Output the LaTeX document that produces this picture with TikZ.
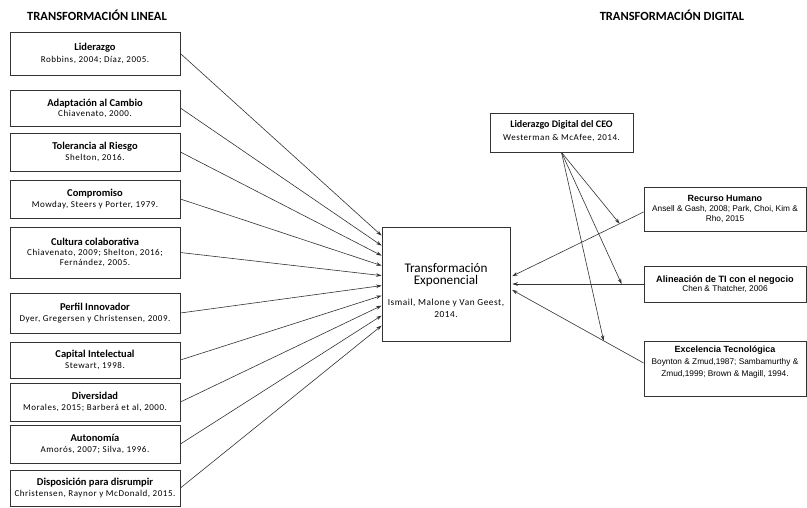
\documentclass[tikz,border=0pt]{standalone}
\usepackage{fontspec}
\setmainfont{Carlito}
\newfontfamily\citefont[LetterSpace=6]{Carlito}
\newfontfamily\arialf{Liberation Sans}
\usetikzlibrary{arrows.meta,calc}
\newcommand\ltit[1]{{\fontsize{10.5}{12}\selectfont\bfseries #1}}
\newcommand\lcit[1]{{\citefont\fontsize{9}{10}\selectfont #1}}
\newcommand\rtit[2]{{\arialf\fontsize{#1}{10}\selectfont\bfseries #2}}
\newcommand\rcit[1]{{\arialf\fontsize{8.3}{10}\selectfont #1}}
\begin{document}
\begin{tikzpicture}[x=1pt,y=-1pt,
  boxline/.style={draw=black!80, line width=0.8pt, fill=white},
  lbox/.style={boxline, minimum width=170pt, align=center, inner sep=1pt, font=\fontsize{9}{10}\selectfont},
  rbox/.style={boxline, minimum width=162pt, align=center, inner sep=1pt, font=\fontsize{8.3}{10}\selectfont},
  txt/.style={align=center, inner sep=0pt},
  head/.style={font=\fontsize{12.5}{14}\selectfont\bfseries, inner sep=0pt},
  arr/.style={draw=black!80, line width=0.6pt, -{Stealth[length=5.5pt,width=3.6pt]}},
]
\useasboundingbox (0,0) rectangle (807,507);
\fill[white] (0,0) rectangle (807,507);

% headings
\node[head] (hl) at (97,15) {TRANSFORMACIÓN LINEAL};
\node[head] (hd) at (672,15) {TRANSFORMACIÓN DIGITAL};

% left boxes
\node[lbox, minimum height=43pt] (b1) at (95,53.5) {\ltit{Liderazgo}\\[2pt]\lcit{Robbins, 2004; Díaz, 2005.}};
\node[lbox, minimum height=36pt] (b2) at (95,108) {\ltit{Adaptación al Cambio}\\\lcit{Chiavenato, 2000.}};
\node[lbox, minimum height=38pt] (b3) at (95,152) {\ltit{Tolerancia al Riesgo}\\[1pt]\lcit{Shelton, 2016.}};
\node[lbox, minimum height=38pt] (b4) at (95,199) {\ltit{Compromiso}\\[1pt]\lcit{Mowday, Steers y Porter, 1979.}};
\node[lbox, minimum height=51pt] (b5) at (95,252.5) {\ltit{Cultura colaborativa}\\\lcit{Chiavenato, 2009; Shelton, 2016;}\\\lcit{Fernández, 2005.}};
\node[lbox, minimum height=40pt] (b6) at (95,313) {\ltit{Perfil Innovador}\\[1pt]\lcit{Dyer, Gregersen y Christensen, 2009.}};
\node[lbox, minimum height=36pt] (b7) at (95,360) {\ltit{Capital Intelectual}\\[1pt]\lcit{Stewart, 1998.}};
\node[lbox, minimum height=38pt] (b8) at (95,402) {\ltit{Diversidad}\\[1pt]\lcit{Morales, 2015; Barberá et al, 2000.}};
\node[lbox, minimum height=38pt] (b9) at (95,444) {\ltit{Autonomía}\\[1pt]\lcit{Amorós, 2007; Silva, 1996.}};
\node[lbox, minimum height=36pt] (b10) at (95,488) {\ltit{Disposición para disrumpir}\\[1pt]\lcit{Christensen, Raynor y McDonald, 2015.}};

% centre box
\node[boxline, minimum width=128pt, minimum height=114pt] (c) at (446,284) {};
\node[txt] (ct) at (446,290) {{\fontsize{13.2}{16}\selectfont Transformación}\\{\fontsize{13.2}{16}\selectfont Exponencial}\\[9pt]{\citefont\fontsize{9.3}{13}\selectfont Ismail, Malone y Van Geest,}\\{\citefont\fontsize{9.3}{13}\selectfont 2014.}};

% right boxes
\node[boxline, minimum width=143pt, minimum height=39pt] (ceo) at (561.5,132.5) {};
\node[txt] (ceot) at (561.5,131) {{\fontsize{10}{11}\selectfont\bfseries Liderazgo Digital del CEO}\\[1pt]{\citefont\fontsize{9}{10}\selectfont Westerman \& McAfee, 2014.}};
\node[rbox, minimum height=44pt] (rh) at (725,209) {\rtit{9}{Recurso Humano}\\\rcit{Ansell \& Gash, 2008; Park, Choi, Kim \&}\\\rcit{Rho, 2015}};
\node[rbox, minimum height=36pt] (al) at (725,284) {\rtit{9.2}{Alineación de TI con el negocio}\\[-1pt]\rcit{Chen \& Thatcher, 2006}};
\node[boxline, minimum width=162pt, minimum height=55pt] (ex) at (725,368.5) {};
\node[txt] (ext) at (725,362) {\rtit{9}{Excelencia Tecnológica}\\\rcit{Boynton \& Zmud,1987; Sambamurthy \&}\\\rcit{Zmud,1999; Brown \& Magill, 1994.}};

% left connectors
\foreach \n [count=\i] in {b1,b2,b3,b4,b5,b6,b7,b8,b9,b10}
  \draw[arr] (\n.east) -- ($(c.north west)+(0,{-1+10*\i})$);

% right connectors
\draw[arr, shorten >=2pt] ([yshift=-3pt]rh.west) -- coordinate[pos=0.18] (p1) ($(c.east)+(0,-7)$);
\draw[arr, shorten >=2pt] (al.west) -- coordinate[pos=0.165] (p2) (c.east);
\draw[arr, shorten >=2pt] ([yshift=5.5pt]ex.west) -- coordinate[pos=0.3] (p3) ($(c.east)+(0,5)$);
\draw[arr] (ceo.south) -- (p1);
\draw[arr] (ceo.south) -- (p2);
\draw[arr] (ceo.south) -- (p3);
\end{tikzpicture}
\end{document}
